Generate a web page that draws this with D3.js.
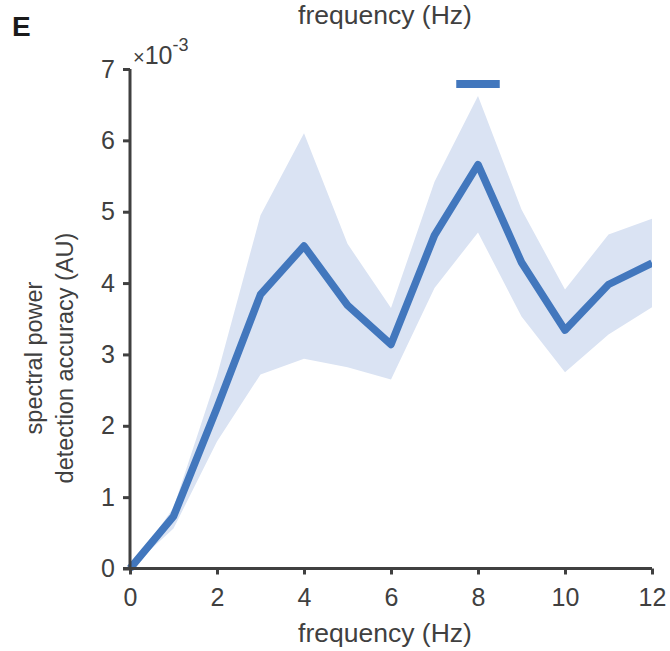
<!DOCTYPE html>
<html><head><meta charset="utf-8">
<script src="https://cdn.jsdelivr.net/npm/d3@7/dist/d3.min.js"></script>
<style>body{margin:0;background:#fff}svg{display:block}</style>
</head><body>
<script>
const freqs = [0,1,2,3,4,5,6,7,8,9,10,11,12];
const meanVals = [0.0,0.73,2.25,3.84,4.52,3.69,3.14,4.67,5.66,4.29,3.34,3.98,4.28];
const upperVals = [0.0,0.85,2.7,4.95,6.1,4.55,3.65,5.42,6.62,5.03,3.91,4.68,4.90];
const lowerVals = [0.0,0.56,1.78,2.72,2.94,2.82,2.65,3.93,4.71,3.53,2.75,3.28,3.66];
const sigRange = [7.5,8.5];
const sigLevel = 6.79;
const xTicks = [0,2,4,6,8,10,12];
const yTicks = [0,1,2,3,4,5,6,7];

const W=670,H=651;
const svg=d3.select("body").append("svg").attr("width",W).attr("height",H);
const x=d3.scaleLinear().domain([0,12]).range([130,652]);
const y=d3.scaleLinear().domain([0,7]).range([568.5,69]);
const col="#404040", font="Liberation Sans, Arial, sans-serif";

const defs=svg.append("defs");
defs.append("clipPath").attr("id","clip").append("rect").attr("x",x(0)-10).attr("y",0).attr("width",x(12)-x(0)+10).attr("height",y(0)+5);

const idx=d3.range(freqs.length);
svg.append("path").datum(idx)
 .attr("d",d3.area().x(i=>x(freqs[i])).y0(i=>y(lowerVals[i])).y1(i=>y(upperVals[i])))
 .attr("fill","#dae3f3");
svg.append("path").datum(idx).attr("clip-path","url(#clip)")
 .attr("d",d3.line().x(i=>x(freqs[i])).y(i=>y(meanVals[i])))
 .attr("fill","none").attr("stroke","#4277bd").attr("stroke-width",7.5).attr("stroke-linejoin","round");
svg.append("line").attr("x1",x(sigRange[0])).attr("x2",x(sigRange[1])).attr("y1",y(sigLevel)).attr("y2",y(sigLevel))
 .attr("stroke","#4277bd").attr("stroke-width",8);

const xa=svg.append("g").attr("transform",`translate(0,${y(0)})`)
 .call(d3.axisBottom(x).tickValues(xTicks).tickSize(6).tickPadding(14).tickFormat(d3.format("d")));
const ya=svg.append("g").attr("transform",`translate(${x(0)},0)`)
 .call(d3.axisLeft(y).tickValues(yTicks).tickSize(7).tickPadding(8).tickFormat(d3.format("d")));
[xa,ya].forEach(a=>{
 a.select(".domain").attr("stroke",col).attr("stroke-width",3).attr("d", a===xa?`M${x(0)-7},0H${x(12)}`:`M0,${y(0)}V${y(7)}`);
 a.selectAll(".tick line").attr("stroke",col).attr("stroke-width",3);
 a.selectAll(".tick text").attr("fill",col).attr("font-size",25).attr("font-family",font);
});

svg.append("text").attr("x",385).attr("y",642).attr("text-anchor","middle").attr("fill",col)
 .attr("font-size",26.5).attr("font-family",font).text("frequency (Hz)");
svg.append("text").attr("x",385).attr("y",24).attr("text-anchor","middle").attr("fill",col)
 .attr("font-size",26.5).attr("font-family",font).text("frequency (Hz)");
const yl=svg.append("text").attr("transform","translate(0,358) rotate(-90)").attr("text-anchor","middle")
 .attr("fill",col).attr("font-size",23.5).attr("font-family",font);
yl.append("tspan").attr("x",0).attr("y",42).text("spectral power");
yl.append("tspan").attr("x",0).attr("y",73).text("detection accuracy (AU)");
const ex=svg.append("text").attr("x",133).attr("y",64).attr("fill",col).attr("font-size",25).attr("font-family",font);
ex.append("tspan").attr("font-size",20).text("\u00d7");
ex.append("tspan").text("10");
ex.append("tspan").attr("font-size",18).attr("dy",-13).text("-3");
svg.append("text").attr("x",12).attr("y",36).attr("fill","#1a1a1a").attr("font-size",28).attr("font-weight","bold")
 .attr("font-family",font).text("E");
</script>
</body></html>
